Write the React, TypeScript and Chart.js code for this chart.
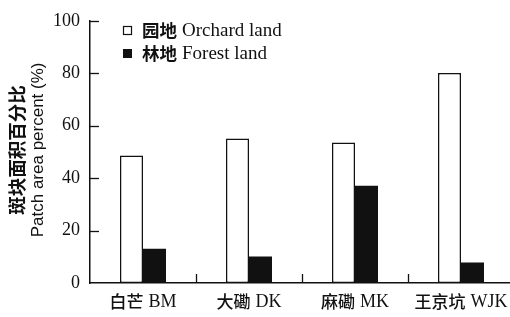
import React, { useEffect, useRef } from "react";
import { Chart, registerables } from "chart.js";

Chart.register(...registerables);

const categories = ["白芒 BM", "大磡 DK", "麻磡 MK", "王京坑 WJK"];
const orchardValues = [48.6, 55.1, 53.6, 80.1];
const forestValues = [13.1, 10.1, 37.1, 7.8];
const seriesLabels = ["园地 Orchard land", "林地 Forest land"];
const yTitleLines = ["斑块面积百分比", "Patch area percent (%)"];
const yMin = 0;
const yMax = 100;
const yStep = 20;

const INK = "#111";
const ZH_FONT = "'Noto Sans CJK SC'";
const EN_FONT = "'Liberation Serif'";

function drawMixed(ctx: CanvasRenderingContext2D, text: string, x: number, y: number, zhSize: number, enSize: number, zhWeight: string, align: "left" | "center") {
  const sp = text.indexOf(" ");
  const zh = text.slice(0, sp);
  const en = text.slice(sp + 1);
  ctx.font = `${zhWeight} ${zhSize}px ${ZH_FONT}`;
  const wz = ctx.measureText(zh).width;
  ctx.font = `${enSize}px ${EN_FONT}`;
  const we = ctx.measureText(en).width;
  const gap = 5;
  const total = wz + gap + we;
  const x0 = align === "center" ? x - total / 2 : x;
  ctx.textAlign = "left";
  ctx.textBaseline = "middle";
  ctx.font = `${zhWeight} ${zhSize}px ${ZH_FONT}`;
  ctx.fillText(zh, x0, y);
  ctx.font = `${enSize}px ${EN_FONT}`;
  ctx.fillText(en, x0 + wz + gap, y + 0.5);
}

const decorPlugin = {
  id: "decor",
  afterDraw(chart: any) {
    const ctx = chart.ctx as CanvasRenderingContext2D;
    const { chartArea, scales } = chart;
    const xs = scales.x;
    const ys = scales.y;
    ctx.save();
    ctx.strokeStyle = INK;
    ctx.fillStyle = INK;
    ctx.lineWidth = 1.3;
    // inward y ticks
    ys.ticks.forEach((t: any) => {
      if (t.value === yMin) return;
      const py = Math.round(ys.getPixelForValue(t.value)) + 0.5;
      ctx.beginPath();
      ctx.moveTo(chartArea.left, py);
      ctx.lineTo(chartArea.left + 9, py);
      ctx.stroke();
    });
    // inward x ticks between categories
    for (let i = 0; i < categories.length - 1; i++) {
      const px = Math.round((xs.getPixelForValue(i) + xs.getPixelForValue(i + 1)) / 2) + 0.5;
      ctx.beginPath();
      ctx.moveTo(px, chartArea.bottom);
      ctx.lineTo(px, chartArea.bottom - 9);
      ctx.stroke();
    }
    // category labels
    categories.forEach((c, i) => {
      ctx.fillStyle = INK;
      drawMixed(ctx, c, xs.getPixelForValue(i), chartArea.bottom + 19, 17, 18, "500", "center");
    });
    // legend
    const lx = 123.5;
    const rows = [30.5, 53.5];
    rows.forEach((ry, i) => {
      if (i === 0) {
        ctx.fillStyle = "#fff";
        ctx.fillRect(lx, ry - 4, 8, 8);
        ctx.lineWidth = 1.2;
        ctx.strokeRect(lx, ry - 4, 8, 8);
      } else {
        ctx.fillStyle = INK;
        ctx.fillRect(lx - 0.5, ry - 4.5, 9, 9);
      }
      ctx.fillStyle = INK;
      drawMixed(ctx, seriesLabels[i], 142, ry, 17.5, 19, "bold", "left");
    });
    // y title
    const midY = (chartArea.top + chartArea.bottom) / 2 - 2;
    ctx.save();
    ctx.translate(17, midY);
    ctx.rotate(-Math.PI / 2);
    ctx.textAlign = "center";
    ctx.textBaseline = "middle";
    ctx.font = `bold 18.5px ${ZH_FONT}`;
    ctx.fillText(yTitleLines[0], 0, 0);
    ctx.restore();
    ctx.save();
    ctx.translate(38.5, midY);
    ctx.rotate(-Math.PI / 2);
    ctx.textAlign = "center";
    ctx.textBaseline = "middle";
    ctx.font = "17px 'Liberation Sans'";
    ctx.fillText(yTitleLines[1], 0, 0);
    ctx.restore();
    ctx.restore();
  },
};

export default function App() {
  const ref = useRef<HTMLCanvasElement | null>(null);
  useEffect(() => {
    if (!ref.current) return;
    const chart = new Chart(ref.current, {
      type: "bar",
      data: {
        labels: categories,
        datasets: [
          {
            label: seriesLabels[0],
            data: orchardValues,
            backgroundColor: "#fff",
            borderColor: INK,
            borderWidth: 1.5,
            borderSkipped: false,
            categoryPercentage: 0.434,
            barPercentage: 1,
          },
          {
            label: seriesLabels[1],
            data: forestValues,
            backgroundColor: INK,
            borderColor: INK,
            borderWidth: 0,
            categoryPercentage: 0.434,
            barPercentage: 1,
          },
        ],
      },
      options: {
        responsive: false,
        animation: false,
        devicePixelRatio: 1,
        layout: { padding: { top: 16, right: 0, bottom: 0, left: 0 } },
        plugins: { legend: { display: false }, tooltip: { enabled: false } },
        scales: {
          x: {
            offset: true,
            grid: { display: false, drawTicks: false },
            border: { display: true, color: INK, width: 1.5 },
            ticks: { display: false },
            afterFit: (s: any) => {
              s.height = 34;
              s.paddingLeft = 0;
              s.paddingRight = 0;
            },
          },
          y: {
            min: yMin,
            max: yMax,
            ticks: {
              stepSize: yStep,
              color: INK,
              padding: 10,
              font: { family: EN_FONT, size: 18 },
            },
            grid: { display: false, drawTicks: false },
            border: { display: true, color: INK, width: 1.5 },
            afterFit: (s: any) => {
              s.width = 90;
            },
          },
        },
      },
      plugins: [decorPlugin],
    });
    return () => chart.destroy();
  }, []);
  return (
    <div
      style={{
        position: "fixed",
        left: 0,
        top: 0,
        width: 510,
        height: 317,
        overflow: "hidden",
        background: "#fff",
      }}
    >
      <canvas ref={ref} width={514} height={317} style={{ display: "block" }} />
    </div>
  );
}
